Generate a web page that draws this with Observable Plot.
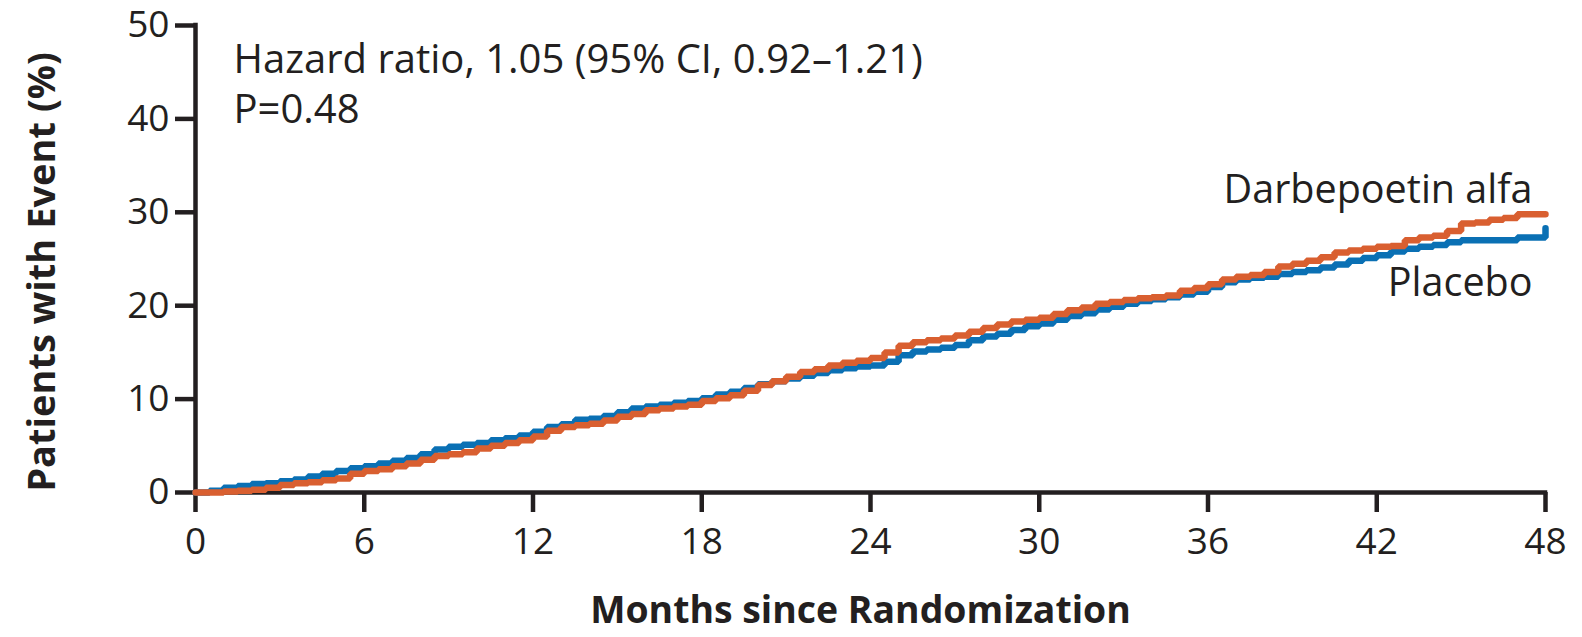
<!DOCTYPE html>
<html>
<head>
<meta charset="utf-8">
<script src="https://cdn.jsdelivr.net/npm/d3@7"></script>
<script src="https://cdn.jsdelivr.net/npm/@observablehq/plot@0.6"></script>
<style>
  html, body { margin: 0; padding: 0; background: #ffffff; }
  #chart svg { display: block; }
</style>
</head>
<body>
<div id="chart"></div>
<script>
// Cumulative incidence (%) by months since randomization, sampled every half month
const months = [
  0, 0.5, 1, 1.5, 2, 2.5, 3, 3.5, 4, 4.5, 5, 5.5, 6, 6.5, 7, 7.5, 8, 8.5, 9, 9.5,
  10, 10.5, 11, 11.5, 12, 12.5, 13, 13.5, 14, 14.5, 15, 15.5, 16, 16.5, 17, 17.5,
  18, 18.5, 19, 19.5, 20, 20.5, 21, 21.5, 22, 22.5, 23, 23.5, 24, 24.5, 25, 25.5,
  26, 26.5, 27, 27.5, 28, 28.5, 29, 29.5, 30, 30.5, 31, 31.5, 32, 32.5, 33, 33.5,
  34, 34.5, 35, 35.5, 36, 36.5, 37, 37.5, 38, 38.5, 39, 39.5, 40, 40.5, 41, 41.5,
  42, 42.5, 43, 43.5, 44, 44.5, 45, 45.5, 46, 46.5, 47, 47.5, 48
];

const placebo = [
  0, 0.2, 0.5, 0.7, 0.9, 1.0, 1.2, 1.4, 1.7, 2.0, 2.3, 2.6, 2.8, 3.1, 3.4, 3.7, 4.1, 4.6, 4.9, 5.1,
  5.3, 5.6, 5.8, 6.1, 6.5, 7.0, 7.3, 7.8, 7.9, 8.2, 8.6, 9.0, 9.2, 9.4, 9.6, 9.8,
  10.1, 10.5, 10.8, 11.2, 11.6, 11.9, 12.2, 12.5, 12.8, 13.1, 13.3, 13.5, 13.6, 14.0, 14.7, 15.1,
  15.3, 15.5, 15.8, 16.3, 16.7, 17.0, 17.4, 17.8, 18.1, 18.5, 18.9, 19.2, 19.6, 19.9, 20.2, 20.5,
  20.7, 20.9, 21.2, 21.5, 22.0, 22.5, 22.8, 23.0, 23.1, 23.4, 23.6, 23.8, 24.1, 24.4, 24.8, 25.1,
  25.4, 25.8, 26.1, 26.3, 26.5, 26.8, 27.0, 27.0, 27.0, 27.0, 27.3, 27.3, 28.3
];

const darbepoetin = [
  0, 0.0, 0.1, 0.2, 0.3, 0.5, 0.8, 1.0, 1.1, 1.3, 1.5, 2.0, 2.3, 2.5, 2.8, 3.1, 3.5, 3.9, 4.1, 4.3,
  4.7, 5.0, 5.3, 5.6, 6.0, 6.6, 7.0, 7.2, 7.35, 7.7, 8.1, 8.4, 8.8, 9.0, 9.2, 9.4,
  9.8, 10.1, 10.4, 10.9, 11.5, 11.9, 12.4, 12.9, 13.2, 13.6, 13.9, 14.1, 14.4, 15.0, 15.7, 16.1,
  16.3, 16.5, 16.8, 17.2, 17.6, 18.0, 18.3, 18.5, 18.7, 19.1, 19.5, 19.8, 20.2, 20.4, 20.6, 20.8,
  20.9, 21.1, 21.6, 21.9, 22.3, 22.8, 23.1, 23.3, 23.6, 24.2, 24.5, 24.8, 25.2, 25.7, 25.9, 26.1,
  26.3, 26.4, 27.0, 27.3, 27.5, 28.0, 28.8, 28.9, 29.2, 29.4, 29.8, 29.8, 29.8
];

const xTicks = [0, 6, 12, 18, 24, 30, 36, 42, 48];
const yTicks = [0, 10, 20, 30, 40, 50];

const seriesNames = ["Placebo", "Darbepoetin alfa"];
const statsText = "Hazard ratio, 1.05 (95% CI, 0.92\u20131.21)\nP=0.48";
const xTitle = "Months since Randomization";
const yTitle = "Patients with Event (%)";

const ink = "#231f20";
const blue = "#0a70b4";
const orange = "#d95f30";

const placeboRows = months.map((m, i) => ({month: m, pct: placebo[i]}));
const darbRows = months.map((m, i) => ({month: m, pct: darbepoetin[i]}));

const chart = Plot.plot({
  width: 1582,
  height: 637,
  marginLeft: 195,
  marginRight: 37,
  marginTop: 25,
  marginBottom: 145,
  style: {fontFamily: "'Open Sans', sans-serif", background: "#ffffff", color: ink},
  x: {domain: [0, 48]},
  y: {domain: [0, 50]},
  marks: [
    Plot.axisY({ticks: yTicks, tickSize: 20, tickPadding: 6, strokeWidth: 4.5, color: ink, fontSize: 37, label: null}),
    Plot.axisX({ticks: xTicks, tickSize: 20, tickPadding: 15, strokeWidth: 4.5, color: ink, fontSize: 37, label: null}),
    Plot.ruleX([0], {stroke: ink, strokeWidth: 4.5, strokeLinecap: "square"}),
    Plot.ruleY([0], {stroke: ink, strokeWidth: 4.5, strokeLinecap: "square"}),
    Plot.line(placeboRows, {x: "month", y: "pct", curve: "step-after", stroke: blue, strokeWidth: 6.5, strokeLinejoin: "miter"}),
    Plot.line(darbRows, {x: "month", y: "pct", curve: "step-after", stroke: orange, strokeWidth: 6.5, strokeLinejoin: "miter"}),
    Plot.text([statsText], {frameAnchor: "top-left", textAnchor: "start", lineAnchor: "top", dx: 38, dy: 12, fontSize: 40, lineHeight: 1.25, fill: ink}),
    Plot.text([seriesNames[1]], {frameAnchor: "top-right", textAnchor: "end", lineAnchor: "top", dx: -13, dy: 149, fontSize: 39.5, fill: ink}),
    Plot.text([seriesNames[0]], {frameAnchor: "top-right", textAnchor: "end", lineAnchor: "top", dx: -13, dy: 242, fontSize: 39.5, fill: ink}),
    Plot.text([xTitle], {frameAnchor: "bottom", lineAnchor: "bottom", dx: -10, dy: 130, fontSize: 37.4, fontWeight: "bold", fill: ink}),
    Plot.text([yTitle], {frameAnchor: "left", textAnchor: "middle", rotate: -90, dx: -153, dy: 13, fontSize: 38, fontWeight: "bold", fill: ink})
  ]
});

document.getElementById("chart").appendChild(chart);
</script>
</body>
</html>
